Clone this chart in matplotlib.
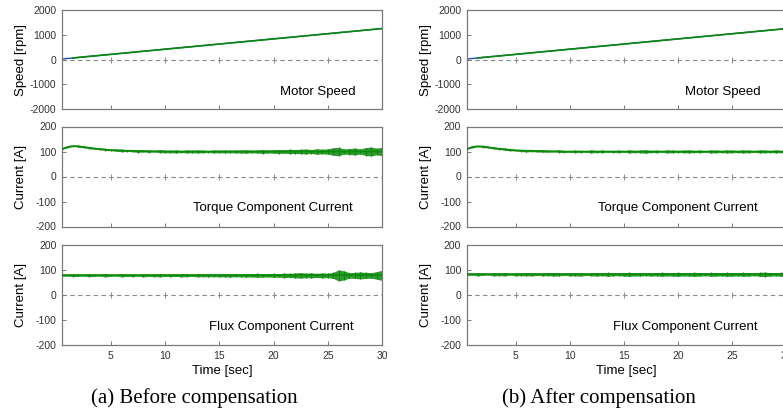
import numpy as np
import matplotlib
matplotlib.use('Agg')
import matplotlib.pyplot as plt

plt.rcParams['font.family'] = ['Liberation Sans', 'DejaVu Sans']
plt.rcParams['axes.unicode_minus'] = False

# ===================== data =====================
# speed traces (reference / measured)
speed_ref_t = [0.5, 30.0]
speed_ref = [20, 1250]
speed_meas_t = [1.5, 30.0]
speed_meas = [62, 1250]

# current traces sampled every 0.5 s from 0.5 s to 30 s
t_grid = np.arange(1, 61) * 0.5

torque_mean_before = [110, 118, 122, 121, 118, 115, 112, 110, 108, 106,
                      105, 104, 103, 103, 102, 102, 101, 101, 101, 100] + [100] * 40
torque_mean_after = [110, 118, 121, 120, 117, 114, 111, 109, 107, 105,
                     104, 103, 103, 102, 102, 101, 101, 101, 100, 100] + [100] * 40
flux_mean_before = [77] * 60
flux_mean_after = [81] * 60

# half-width of the ripple band [A]
torque_amp_before = [2, 3, 2, 4, 3, 4, 3, 3, 4, 3,
                     4, 5, 3, 4, 6, 4, 5, 3, 6, 5,
                     5, 6, 4, 6, 5, 6, 5, 4, 6, 5,
                     6, 5, 6, 6, 7, 5, 6, 8, 6, 7,
                     8, 7, 9, 8, 9, 10, 8, 11, 9, 11,
                     15, 17, 10, 12, 14, 10, 16, 18, 13, 17]
flux_amp_before = [4, 3, 5, 4, 3, 5, 4, 3, 6, 4,
                   3, 6, 4, 5, 3, 6, 4, 5, 6, 4,
                   5, 4, 6, 5, 4, 6, 5, 6, 5, 6,
                   6, 7, 5, 6, 7, 6, 8, 7, 6, 8,
                   7, 9, 8, 10, 11, 9, 10, 8, 10, 9,
                   12, 22, 18, 11, 12, 14, 12, 11, 15, 20]
torque_amp_after = [2, 3, 2, 4, 3, 4, 3, 4, 4, 3,
                    4, 5, 3, 4, 5, 4, 3, 5, 4, 3,
                    5, 4, 3, 6, 4, 5, 3, 4, 5, 3,
                    6, 4, 5, 7, 4, 5, 3, 6, 5, 4,
                    5, 6, 4, 5, 3, 6, 5, 4, 6, 5,
                    4, 6, 5, 3, 6, 5, 4, 6, 4, 5]
flux_amp_after = [5, 3, 6, 4, 3, 6, 5, 6, 3, 6,
                  5, 6, 6, 4, 6, 5, 7, 6, 4, 6,
                  6, 7, 4, 6, 7, 5, 8, 6, 5, 7,
                  8, 6, 7, 5, 7, 6, 8, 6, 7, 8,
                  6, 7, 8, 7, 5, 8, 7, 6, 8, 7,
                  6, 8, 7, 5, 8, 9, 7, 6, 8, 7]

time_ticks = [5, 10, 15, 20, 25, 30]
speed_ticks = [-2000, -1000, 0, 1000, 2000]
current_ticks = [-200, -100, 0, 100, 200]

panels = [
    dict(x0=62, caption='(a) Before compensation',
         torque=(torque_mean_before, torque_amp_before),
         flux=(flux_mean_before, flux_amp_before)),
    dict(x0=466.7, caption='(b) After compensation',
         torque=(torque_mean_after, torque_amp_after),
         flux=(flux_mean_after, flux_amp_after)),
]

# ===================== figure =====================
W, H = 783, 416
fig = plt.figure(figsize=(W / 100, H / 100), dpi=100)

rows = [(10, 109), (126.5, 226.5), (244.5, 345)]
ax_w = 320
green = '#0a8a0a'
spine_c = '#7a7a7a'


def style(ax, yticks, ylabel, show_x):
    ax.set_xlim(0.5, 30)
    ax.set_ylim(yticks[0], yticks[-1])
    ax.set_xticks(time_ticks)
    ax.set_yticks(yticks)
    for s in ax.spines.values():
        s.set_color(spine_c)
        s.set_linewidth(0.9)
    ax.tick_params(direction='in', length=3, width=0.7, color=spine_c,
                   labelsize=7.5, labelcolor='#333333', pad=4)
    if not show_x:
        ax.tick_params(labelbottom=False)
    else:
        ax.set_xlabel('Time [sec]', fontsize=9.5, labelpad=3)
    ax.set_ylabel(ylabel, fontsize=9.5)
    ax.yaxis.set_label_coords(-0.11, 0.5)
    # dashed zero axis with small tic marks
    ax.axhline(0, color='#8a8a8a', lw=0.8, dashes=(4, 3), zorder=1)
    ax.plot(time_ticks, [0] * len(time_ticks), ls='none', marker='|',
            ms=4, mew=0.7, color='#8a8a8a', zorder=1)


for p in panels:
    axes = []
    for top, bot in rows:
        ax = fig.add_axes([p['x0'] / W, 1 - bot / H, ax_w / W, (bot - top) / H])
        axes.append(ax)
    ax_s, ax_t, ax_f = axes

    ax_s.plot(speed_ref_t, speed_ref, color='#2050c0', lw=1.0, zorder=2)
    ax_s.plot(speed_meas_t, speed_meas, color=green, lw=1.2, zorder=3)
    style(ax_s, speed_ticks, 'Speed [rpm]', False)
    ax_s.text(0.917, 0.175, 'Motor Speed', transform=ax_s.transAxes,
              ha='right', va='center', fontsize=9.5)

    for ax, (mean, amp), name in [(ax_t, p['torque'], 'Torque Component Current'),
                                  (ax_f, p['flux'], 'Flux Component Current')]:
        mean = np.array(mean, dtype=float)
        amp = np.array(amp, dtype=float)
        ax.fill_between(t_grid, mean - amp, mean + amp,
                        color=green, lw=0, alpha=0.85, zorder=2)
        ax.vlines(t_grid, mean - amp, mean + amp, color=green, lw=0.8, zorder=2)
        ax.plot(t_grid, mean, color=green, lw=1.2, zorder=3)
        style(ax, current_ticks, 'Current [A]', ax is ax_f)
        ax.text(0.91, 0.18, name, transform=ax.transAxes,
                ha='right', va='center', fontsize=9.5)

    fig.text((p['x0'] + 132) / W, 1 - 398 / H, p['caption'],
             family='Liberation Serif', fontsize=15, ha='center', va='center')

fig.savefig('out.png', dpi=100)
